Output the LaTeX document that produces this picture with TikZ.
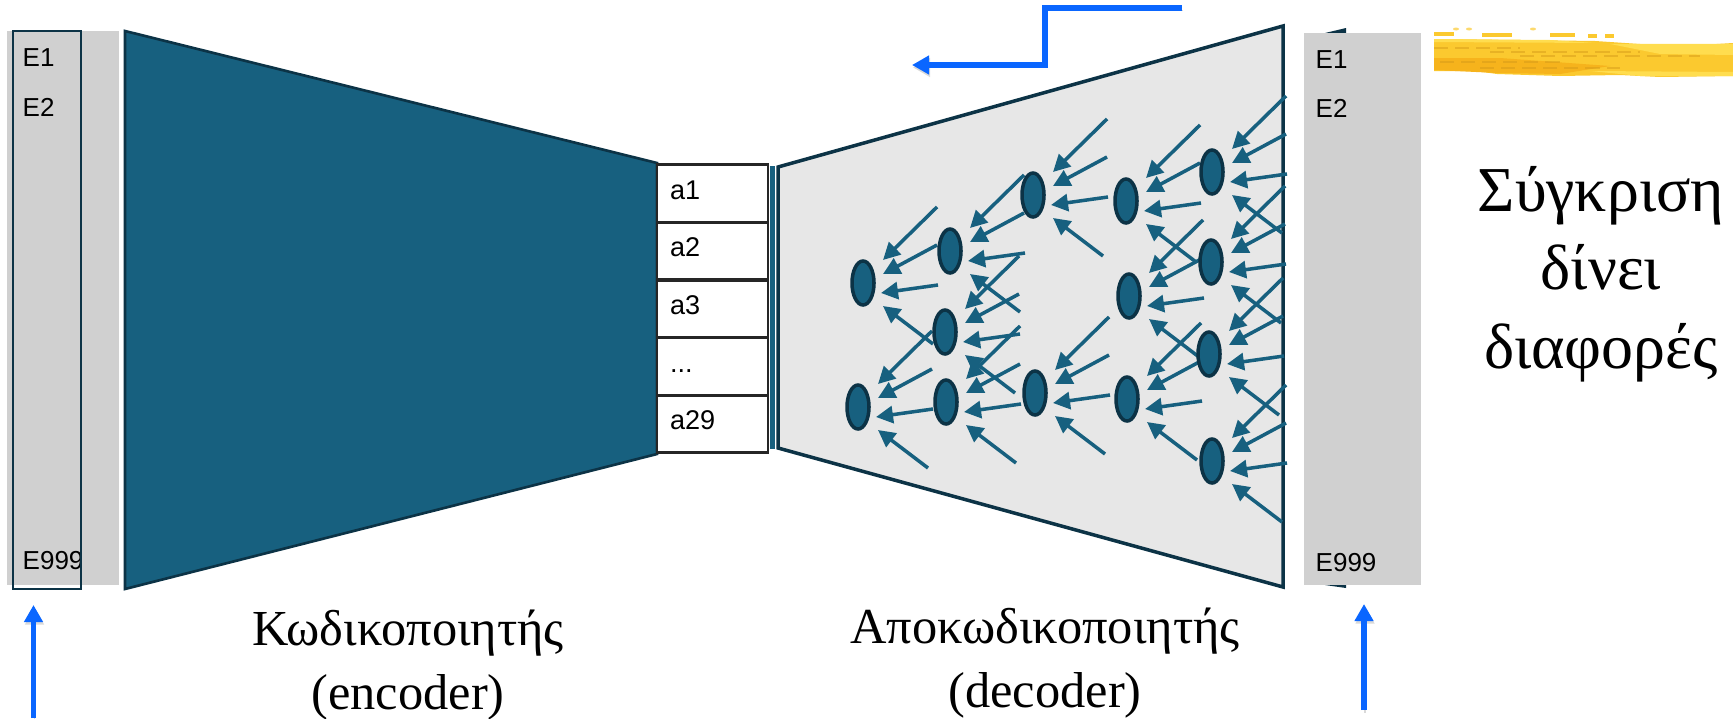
\documentclass[tikz,border=0pt]{standalone}
\usepackage{fontspec}
\setmainfont{Liberation Serif}
\newfontfamily\panelfont{Liberation Sans}
\usetikzlibrary{arrows.meta, shapes.geometric}

\definecolor{tealfill}{HTML}{17607F}
\definecolor{tealedge}{HTML}{0C3346}
\definecolor{panelgrey}{HTML}{D0D0D0}
\definecolor{decodergrey}{HTML}{E7E7E7}
\definecolor{flowblue}{HTML}{0A66FF}
\definecolor{brushbase}{HTML}{FBC92F}
\definecolor{brushdark}{HTML}{F6B31C}
\definecolor{brushlight}{HTML}{FFDD4F}

\begin{document}
\begin{tikzpicture}[
		panel/.style={rectangle, fill=panelgrey, minimum width=#1, minimum height=5.52cm, inner sep=0pt},
		panelnum/.style={anchor=base west, inner sep=0pt, font=\panelfont\fontsize{7.4}{9}\selectfont},
		cell/.style={rectangle, draw=black!85, line width=0.8pt, fill=white, minimum height=0.576cm,
			text width=0.85cm, inner xsep=0.13cm, inner ysep=0pt, align=left, text height=0.2cm, text depth=0.09cm,
			font=\panelfont\fontsize{7.7}{9}\selectfont},
		unit/.style={ellipse, draw=tealedge, fill=tealfill, line width=1pt, minimum width=0.22cm, minimum height=0.44cm, inner sep=0pt},
		fanin/.style={draw=tealfill, line width=1pt, -{Triangle[length=0.17cm, width=0.17cm]}},
		flow/.style={draw=flowblue, line width=1.6pt, -{Triangle[length=0.17cm, width=0.18cm]},
			preaction={draw=black!15, transform canvas={xshift=0.01cm, yshift=-0.025cm}}},
		caption/.style={align=center, font=\fontsize{14.35}{18.2}\selectfont}
	]
  \useasboundingbox (0cm, 0cm) rectangle (17.33cm, 7.18cm);

  % input vector, left
  \node (in_panel) [panel=1.12cm, minimum height=5.54cm] at (0.63cm, 4.105cm) {};
  \node (in_e1) [panelnum] at (0.22cm, 6.52cm) {E1};
  \node (in_e2) [panelnum] at (0.22cm, 6.02cm) {E2};
  \node (in_e999) [panelnum] at (0.22cm, 1.49cm) {E999};
  \node (in_frame) [rectangle, draw=tealedge, line width=0.75pt, minimum width=0.68cm, minimum height=5.58cm, inner sep=0pt] at (0.47cm, 4.08cm) {};

  % encoder body and the code table
  \draw [fill=tealfill, draw=tealedge, line width=0.75pt] (1.25cm, 6.87cm) -- (6.57cm, 5.55cm) -- (6.57cm, 2.64cm) -- (1.25cm, 1.29cm) -- cycle;
  \node (a1) [cell] at (7.125cm, 5.245cm) {a1};
  \node (a2) [cell] at (7.125cm, 4.67cm) {a2};
  \node (a3) [cell] at (7.125cm, 4.09cm) {a3};
  \node (a_dots) [cell] at (7.125cm, 3.515cm) {...};
  \node (a29) [cell] at (7.125cm, 2.94cm) {a29};

  % decoder body
  \fill [tealfill] (7.70cm, 5.52cm) rectangle (7.75cm, 2.69cm);
  \draw [fill=decodergrey, draw=tealedge, line width=1pt] (7.78cm, 5.51cm) -- (12.83cm, 6.92cm) -- (12.83cm, 1.31cm) -- (7.78cm, 2.70cm) -- cycle;

  % decoder units, each with four arrows coming in
  \foreach \n/\x/\y in {1/8.63/4.35, 2/9.50/4.67, 3/10.33/5.23, 4/11.26/5.17, 5/12.12/5.46, 6/12.11/4.56, 7/11.29/4.22,
      8/9.45/3.86, 9/8.58/3.11, 10/9.46/3.16, 11/10.35/3.25, 12/11.27/3.19, 13/12.09/3.64, 14/12.12/2.57} {
    \coordinate (c\n) at (\x cm, \y cm);
    \foreach \i/\tx/\ty/\hx/\hy in {1/0.74/0.76/0.20/0.23, 2/0.74/0.38/0.20/0.09, 3/0.75/-0.02/0.18/-0.10, 4/0.70/-0.61/0.20/-0.23} {
      \coordinate (t\n_\i) at ([shift={(\tx cm, \ty cm)}]c\n);
      \coordinate (h\n_\i) at ([shift={(\hx cm, \hy cm)}]c\n);
      \draw [fanin] (t\n_\i) -- (h\n_\i);
    }
  }
  \foreach \n in {1,...,14} {
    \node (u\n) [unit] at (c\n) {};
  }

  % output vector, right, with the slice of a shape behind it
  \fill [tealedge] (13.46cm, 6.90cm) -- (13.25cm, 6.85cm) -- (13.25cm, 1.33cm) -- (13.46cm, 1.30cm) -- cycle;
  \node (out_panel) [panel=1.17cm] at (13.625cm, 4.09cm) {};
  \node (out_e1) [panelnum] at (13.15cm, 6.50cm) {E1};
  \node (out_e2) [panelnum] at (13.15cm, 6.01cm) {E2};
  \node (out_e999) [panelnum] at (13.15cm, 1.47cm) {E999};

  % brush stroke
  \fill [brushbase] (14.34cm, 6.79cm) -- (15.20cm, 6.78cm) -- (15.95cm, 6.77cm) -- (16.40cm, 6.74cm) -- (17.00cm, 6.73cm) -- (17.33cm, 6.75cm) -- (17.33cm, 6.42cm) -- (16.60cm, 6.41cm) -- (16.20cm, 6.43cm) -- (15.60cm, 6.42cm) -- (14.97cm, 6.44cm) -- (14.75cm, 6.47cm) -- (14.34cm, 6.47cm) -- cycle;
  \fill [brushlight] (16.10cm, 6.74cm) -- (17.33cm, 6.74cm) -- (17.33cm, 6.63cm) -- (16.60cm, 6.64cm) -- cycle;
  \fill [brushlight] (15.90cm, 6.47cm) -- (17.33cm, 6.46cm) -- (17.33cm, 6.42cm) -- (16.40cm, 6.42cm) -- cycle;
  \fill [brushlight] (14.34cm, 6.79cm) -- (15.50cm, 6.78cm) -- (15.95cm, 6.75cm) -- (14.34cm, 6.76cm) -- cycle;
  \fill [brushdark] (14.34cm, 6.60cm) -- (15.00cm, 6.60cm) -- (16.10cm, 6.52cm) -- (15.60cm, 6.44cm) -- (14.97cm, 6.45cm) -- (14.34cm, 6.48cm) -- cycle;
  \foreach \y/\a/\b in {6.70/14.34/15.20, 6.66/14.90/16.40, 6.62/15.20/17.00, 6.56/14.40/15.60, 6.50/14.80/16.20} {
    \draw [brushdark!85!black, opacity=0.45, line width=0.4pt, dash pattern=on 4pt off 2pt] (\a cm, \y cm) -- (\b cm, \y cm);
  }
  \foreach \a/\b/\y in {14.34/14.54/6.84, 14.82/15.12/6.83, 15.50/15.75/6.83, 15.88/15.97/6.82, 16.05/16.14/6.82} {
    \draw [brushbase, line width=1.1pt] (\a cm, \y cm) -- (\b cm, \y cm);
  }
  \foreach \a in {14.56, 14.69, 15.33} {
    \fill [brushbase!70!white] (\a cm, 6.89cm) ellipse (0.03cm and 0.015cm);
  }

  % captions
  \node (enc_label) [caption] at (4.08cm, 0.53cm) {Κωδικοποιητής\\(encoder)};
  \node (dec_label) [caption] at (10.45cm, 0.55cm) {Αποκωδικοποιητής\\(decoder)};
  \node (cmp_label) [align=center, font=\fontsize{18.2}{22.4}\selectfont] at (16.01cm, 4.44cm) {Σύγκριση\\δίνει\\διαφορές};

  % flow arrows
  \coordinate (in_start) at (0.335cm, 0cm);
  \coordinate (in_end) at (0.335cm, 1.13cm);
  \coordinate (out_start) at (13.64cm, 0.08cm);
  \coordinate (out_end) at (13.64cm, 1.14cm);
  \coordinate (back_start) at (11.82cm, 7.10cm);
  \coordinate (back_knee) at (10.45cm, 7.10cm);
  \coordinate (back_turn) at (10.45cm, 6.53cm);
  \coordinate (back_end) at (9.12cm, 6.53cm);
  \draw [flow] (in_start) -- (in_end);
  \draw [flow] (out_start) -- (out_end);
  \draw [flow] (back_start) -- (back_knee) -- (back_turn) -- (back_end);
\end{tikzpicture}
\end{document}
